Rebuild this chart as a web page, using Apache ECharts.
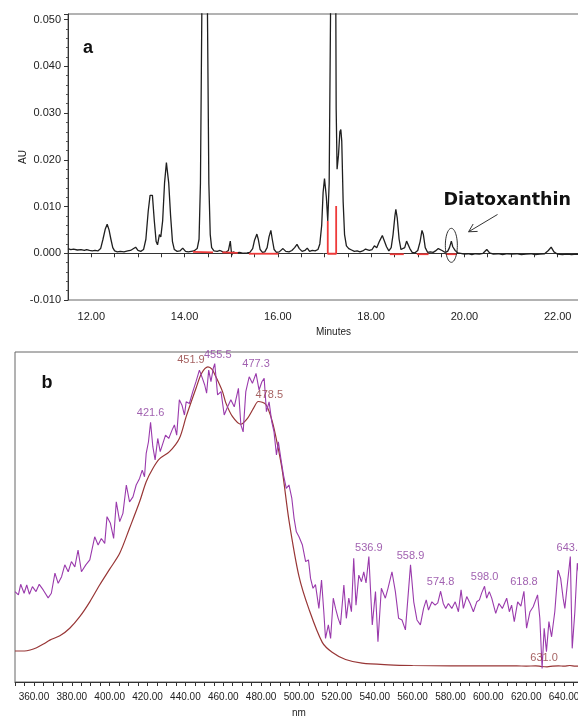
<!DOCTYPE html>
<html><head><meta charset="utf-8">
<script src="https://cdn.jsdelivr.net/npm/echarts@6.0.0/dist/echarts.min.js"></script>
<style>html,body{margin:0;padding:0;background:#fff}#c{width:578px;height:717px}</style>
</head><body><div id="c"></div><script>
// ---- Panel a: chromatogram ----
const minutes = [11.50,11.56,11.62,11.70,11.78,11.85,11.90,11.96,12.02,12.08,12.14,12.20,12.25,12.30,12.34,12.38,12.42,12.46,12.50,12.56,12.62,12.70,12.78,12.84,12.88,12.95,13.00,13.06,13.12,13.17,13.22,13.26,13.29,13.31,13.35,13.39,13.42,13.46,13.49,13.53,13.57,13.61,13.63,13.66,13.70,13.74,13.78,13.84,13.90,13.96,14.02,14.08,14.14,14.20,14.27,14.31,14.34,14.37,14.43,14.49,14.52,14.55,14.58,14.63,14.70,14.76,14.82,14.88,14.94,14.98,15.01,15.04,15.10,15.18,15.26,15.34,15.40,15.46,15.50,15.55,15.58,15.62,15.67,15.72,15.77,15.81,15.85,15.88,15.92,15.97,16.03,16.11,16.17,16.24,16.30,16.36,16.41,16.46,16.52,16.58,16.63,16.68,16.74,16.80,16.86,16.90,16.94,16.97,17.00,17.02,17.04,17.07,17.10,17.13,17.19,17.24,17.25,17.27,17.30,17.33,17.35,17.37,17.40,17.43,17.47,17.52,17.58,17.64,17.70,17.76,17.82,17.88,17.92,17.96,18.02,18.07,18.12,18.18,18.24,18.28,18.33,18.38,18.43,18.47,18.51,18.53,18.56,18.60,18.64,18.68,18.72,18.76,18.79,18.83,18.88,18.94,19.00,19.05,19.09,19.12,19.16,19.21,19.27,19.33,19.38,19.44,19.48,19.52,19.58,19.64,19.68,19.72,19.75,19.80,19.86,19.92,20.00,20.08,20.16,20.24,20.32,20.40,20.48,20.54,20.62,20.72,20.82,20.92,21.02,21.12,21.22,21.32,21.42,21.52,21.62,21.72,21.80,21.86,21.92,22.00,22.10,22.20,22.30,22.40,22.50];
const absorbanceAU = [0.0010,0.0008,0.0009,0.0007,0.0008,0.0006,0.0008,0.0006,0.0005,0.0006,0.0005,0.0010,0.0030,0.0052,0.0062,0.0050,0.0030,0.0012,0.0005,0.0003,0.0004,0.0003,0.0005,0.0006,0.0004,0.0013,0.0006,0.0004,0.0008,0.0030,0.0090,0.0124,0.0120,0.0124,0.0070,0.0025,0.0018,0.0040,0.0035,0.0070,0.0150,0.0194,0.0190,0.0150,0.0080,0.0025,0.0008,0.0004,0.0005,0.0011,0.0004,0.0003,0.0004,0.0005,0.0010,0.0030,0.0150,0.0520,0.1500,0.0520,0.0150,0.0040,0.0012,0.0005,0.0004,0.0006,0.0003,0.0002,0.0006,0.0026,-0.0004,0.0003,0.0001,0.0002,0.0000,0.0001,0.0002,0.0010,0.0028,0.0041,0.0030,0.0008,0.0002,0.0003,0.0012,0.0035,0.0049,0.0030,0.0008,0.0002,0.0003,0.0010,0.0004,0.0003,0.0006,0.0012,0.0019,0.0010,0.0004,0.0006,0.0011,0.0004,0.0006,0.0005,0.0008,0.0020,0.0060,0.0130,0.0160,0.0140,0.0120,0.0069,0.0150,0.0520,0.2000,0.0600,0.0311,0.0180,0.0210,0.0260,0.0265,0.0240,0.0110,0.0040,0.0016,0.0010,0.0007,0.0004,0.0005,0.0003,0.0005,0.0009,0.0012,0.0006,0.0008,0.0016,0.0012,0.0026,0.0038,0.0034,0.0014,0.0005,0.0012,0.0040,0.0080,0.0094,0.0075,0.0030,0.0008,0.0005,0.0012,0.0026,0.0027,0.0010,0.0002,0.0001,0.0006,0.0025,0.0049,0.0040,0.0012,0.0002,0.0003,0.0002,0.0005,0.0010,0.0012,0.0006,0.0002,0.0004,0.0012,0.0026,0.0014,0.0006,0.0001,0.0000,-0.0002,-0.0001,-0.0003,-0.0001,-0.0002,0.0000,0.0008,0.0001,-0.0002,-0.0001,-0.0003,-0.0001,-0.0002,-0.0001,-0.0003,-0.0002,-0.0001,-0.0003,-0.0002,-0.0001,0.0006,0.0013,0.0003,-0.0002,-0.0003,-0.0002,-0.0003,-0.0002,-0.0003];
// integration baselines (red), each segment a list of [minute, AU]
const integrationSegments = [
  [[14.18,0.0003],[14.61,0.0002]],
  [[14.81,0.0002],[15.14,0.0001]],
  [[15.38,-0.0001],[16.01,-0.0001]],
  [[17.07,0.0069],[17.07,-0.0001],[17.25,-0.0001],[17.25,0.0101]],
  [[18.40,-0.0002],[18.70,-0.0002]],
  [[18.98,-0.0002],[19.23,-0.0002]],
  [[19.60,-0.0002],[19.84,-0.0002]]
];
const auTicks = [-0.010,0.000,0.010,0.020,0.030,0.040,0.050];

// ---- Panel b: UV-Vis spectra ----
const purpleNm = [350.0,351.8,353.0,354.8,356.2,357.6,359.2,361.1,362.8,364.9,367.5,369.2,371.1,372.8,374.6,376.3,378.1,379.8,381.6,383.3,385.1,387.4,389.5,392.1,393.9,395.6,397.4,398.6,400.4,402.1,403.5,405.3,407.0,408.8,410.5,412.3,414.0,415.8,417.2,418.4,419.3,420.5,421.6,422.8,424.0,425.4,426.7,428.1,429.5,431.2,433.0,434.2,435.4,436.8,438.2,439.5,440.4,442.1,443.9,445.6,447.4,449.0,450.2,451.2,452.3,453.5,454.7,455.5,457.0,458.8,460.5,462.3,464.0,465.8,468.0,469.3,470.5,471.9,473.7,475.4,477.3,478.9,480.4,481.6,482.8,484.2,485.6,486.8,488.1,489.1,490.4,491.8,493.3,494.7,496.2,497.4,498.6,500.0,501.8,503.5,505.0,506.1,507.4,508.7,510.5,511.9,513.1,514.0,515.5,516.7,518.1,519.3,520.7,521.9,523.7,525.0,526.3,527.7,528.9,530.1,531.6,533.0,534.2,535.4,536.9,538.7,540.4,541.7,543.5,545.6,547.0,549.1,550.9,552.6,554.4,556.2,558.9,560.6,562.3,564.1,565.8,567.2,568.4,570.2,571.9,573.3,574.8,576.2,577.5,578.9,580.7,582.5,584.2,585.6,586.8,588.6,590.4,592.1,593.9,595.3,596.5,598.0,599.1,600.5,601.8,603.9,605.6,607.4,609.7,611.1,612.3,613.7,615.5,617.2,618.8,620.2,622.0,623.7,626.0,627.2,628.4,629.5,630.7,632.0,633.4,635.1,636.8,638.2,639.5,640.4,641.8,643.3,644.3,645.7,647.0,648.5,650.0];
const purpleAbs = [27.4,26.4,29.6,26.9,29.4,26.6,28.9,27.4,29.6,27.9,25.5,26.9,33.0,29.9,31.9,35.5,33.4,36.5,34.9,40.0,33.4,35.5,37.0,44.0,41.5,43.5,42.0,50.1,48.1,43.5,54.6,48.6,51.1,59.7,54.6,56.1,59.7,61.7,64.2,62.2,69.3,72.8,78.7,71.3,67.3,73.8,69.8,72.3,74.8,73.8,76.4,77.9,74.8,85.5,83.9,80.9,84.9,84.4,88.0,91.0,94.5,92.0,90.0,87.5,94.5,91.0,95.0,96.5,87.0,88.0,80.9,83.4,85.5,83.4,89.0,77.9,75.8,88.0,92.5,90.5,93.5,88.5,91.0,92.0,81.9,84.9,78.9,75.8,68.8,72.8,67.8,62.7,58.7,59.7,55.7,49.6,45.5,44.0,41.5,36.5,37.0,31.4,28.4,29.5,22.3,30.9,21.3,13.2,17.3,13.2,25.4,22.3,19.3,17.3,29.4,19.3,25.4,21.3,37.5,23.3,32.4,30.4,33.4,30.0,38.0,17.3,27.4,12.2,28.4,25.4,28.4,33.4,27.4,19.3,18.8,15.8,35.5,24.3,18.8,17.3,22.3,24.9,21.8,24.3,23.3,24.0,27.5,23.8,22.3,23.8,22.3,24.3,21.3,27.9,22.3,25.9,23.8,21.3,24.3,24.9,27.0,29.0,25.4,27.4,25.4,20.8,23.8,22.3,25.4,21.3,23.3,18.3,24.3,23.0,27.5,16.3,21.3,22.8,26.4,19.3,4.1,16.3,9.2,18.3,13.7,21.3,33.9,31.4,25.4,22.3,30.0,38.0,10.2,21.3,36.0,30.0,25.0];
const brownNm = [350,355,358,361.4,365,368.4,373.7,378.9,384.2,389.5,394.7,400,405.3,410.5,415.8,419.3,422.8,426.3,431.6,436.8,440.4,445.6,448.5,451.9,454.0,456.1,459.6,461.4,464.9,469.3,472.8,476.0,478.5,482.5,485.9,488.6,491.2,494.7,500,505.3,512.3,517.5,524.6,533.3,547.4,560,580,600,615,620,625,628,631,634,637,640,643,646,650];
const brownAbs = [9.4,9.4,9.7,10.4,11.5,12.7,14.0,16.3,19.8,24.3,29.4,34.2,39.0,46.6,54.6,60.7,64.7,67.6,69.8,73.8,80.4,89.0,93.5,95.5,94.8,92.5,88.0,84.5,80.4,78.1,79.9,83.0,85.0,84.1,78.9,72.0,64.0,49.0,32.0,22.0,12.0,9.0,6.8,5.7,5.2,5.0,4.9,4.9,4.9,4.8,4.9,4.7,4.6,4.8,4.9,4.8,5.0,4.8,4.8];
const purplePeakNm = [421.6,455.5,477.3,536.9,558.9,574.8,598.0,618.8,643.3];
const brownPeakNm = [451.9,478.5,631.0];

const FONT = "'Liberation Sans', Arial, sans-serif";
const PURPLE = '#9a3aac', PURPLE_TXT = '#8a3a9c';
const BROWN = '#983636', BROWN_TXT = '#8e3a3a';

const chart = echarts.init(document.getElementById('c'), null, {renderer: 'canvas'});

const chromData = minutes.map((t, i) => [t, absorbanceAU[i]]);
const purpleData = purpleNm.map((w, i) => [w, purpleAbs[i]]);
const brownData = brownNm.map((w, i) => [w, brownAbs[i]]);
const labelShift = {451.9: [-17, 2], 455.5: [3, 0], 478.5: [11, 2], 631.0: [-3, 0]};
function peakItems(list, nm, vals) {
  return list.map(w => {
    const i = nm.indexOf(w);
    const s = labelShift[w] || [0, 0];
    return {value: [w, vals[i]], label: {offset: s}};
  });
}
const isMult = (v, step) => Math.abs(v / step - Math.round(v / step)) < 1e-6;

const redSeries = integrationSegments.map(seg => ({
  type: 'line', xAxisIndex: 0, yAxisIndex: 0, data: seg, symbol: 'none', silent: true,
  lineStyle: {color: '#ee3a3a', width: 1.8}, z: 4, animation: false
}));

const option = {
  animation: false,
  backgroundColor: '#fff',
  grid: [
    {left: 68, top: 14, width: 513, height: 286, show: true, borderColor: '#666', borderWidth: 1,
     containLabel: false, outerBoundsMode: 'none'},
    {left: 15, top: 352, width: 568, height: 330, show: true, borderColor: '#666', borderWidth: 1,
     containLabel: false, outerBoundsMode: 'none'}
  ],
  xAxis: [
    {gridIndex: 0, type: 'value', min: 11.5, max: 22.5, interval: 0.5,
     name: 'Minutes', nameLocation: 'middle', nameGap: 27, nameMoveOverlap: false,
     nameTextStyle: {fontFamily: FONT, fontSize: 10, color: '#222', padding: [0, 0, 0, 18]},
     axisLine: {show: true, lineStyle: {color: '#333'}},
     axisTick: {show: true, inside: false, length: 4, lineStyle: {color: '#333'}},
     splitLine: {show: false},
     axisLabel: {margin: 11, fontFamily: FONT, fontSize: 11, color: '#222',
       formatter: v => isMult(v, 2) ? v.toFixed(2) : ''}},
    {gridIndex: 1, type: 'value', min: 350, max: 650, interval: 5,
     name: 'nm', nameLocation: 'middle', nameGap: 26, nameMoveOverlap: false,
     nameTextStyle: {fontFamily: FONT, fontSize: 10, color: '#222'},
     axisLine: {show: true, lineStyle: {color: '#333'}},
     axisTick: {show: true, inside: false, length: 4, lineStyle: {color: '#333'}},
     splitLine: {show: false},
     axisLabel: {margin: 10, fontFamily: FONT, fontSize: 10, color: '#222',
       formatter: v => isMult(v, 20) ? v.toFixed(2) : ''}}
  ],
  yAxis: [
    {gridIndex: 0, type: 'value', min: -0.010, max: 0.0512, interval: 0.010,
     name: 'AU', nameLocation: 'middle', nameGap: 40, nameRotate: 90, nameMoveOverlap: false,
     nameTextStyle: {fontFamily: FONT, fontSize: 10, color: '#222'},
     axisLine: {show: true, lineStyle: {color: '#333'}},
     axisTick: {show: true, inside: false, length: 4, lineStyle: {color: '#333'}},
     minorTick: {show: true, splitNumber: 5, length: 2, lineStyle: {color: '#555'}},
     splitLine: {show: false}, minorSplitLine: {show: false},
     axisLabel: {margin: 7, fontFamily: FONT, fontSize: 11, color: '#222',
       formatter: v => {
         if (!isMult(v, 0.01)) return '';
         if (Math.abs(v) < 1e-9) v = 0;
         return v.toFixed(3);
       }}},
    {gridIndex: 1, type: 'value', min: 0, max: 100, show: false,
     axisLine: {show: false}, axisTick: {show: false}, axisLabel: {show: false}, splitLine: {show: false}}
  ],
  series: [
    {type: 'line', xAxisIndex: 0, yAxisIndex: 0, data: chromData, symbol: 'none',
     lineStyle: {color: '#1f1f1f', width: 1.3}, clip: true, z: 3},
    ...redSeries,
    {type: 'line', xAxisIndex: 1, yAxisIndex: 1, data: brownData, symbol: 'none', smooth: 0.3,
     lineStyle: {color: BROWN, width: 1.2}, z: 2},
    {type: 'line', xAxisIndex: 1, yAxisIndex: 1, data: purpleData, symbol: 'none',
     lineStyle: {color: PURPLE, width: 1.1}, z: 3},
    {type: 'scatter', xAxisIndex: 1, yAxisIndex: 1, data: peakItems(purplePeakNm, purpleNm, purpleAbs),
     symbolSize: 1, itemStyle: {color: 'rgba(0,0,0,0)'}, silent: true, z: 5,
     label: {show: true, position: 'top', distance: 3, color: PURPLE_TXT, fontFamily: FONT, fontSize: 11,
       formatter: p => p.value[0].toFixed(1)}},
    {type: 'scatter', xAxisIndex: 1, yAxisIndex: 1, data: peakItems(brownPeakNm, brownNm, brownAbs),
     symbolSize: 1, itemStyle: {color: 'rgba(0,0,0,0)'}, silent: true, z: 5,
     label: {show: true, position: 'top', distance: 3, color: BROWN_TXT, fontFamily: FONT, fontSize: 11,
       formatter: p => p.value[0].toFixed(1)}}
  ]
};
chart.setOption(option);

// annotations
const P = (g, x, y) => chart.convertToPixel({gridIndex: g}, [x, y]);
const ec = P(0, 19.72, 0.0017);
const ellipsePts = [];
for (let k = 0; k < 48; k++) {
  const a = k / 48 * Math.PI * 2;
  ellipsePts.push([ec[0] + 6 * Math.cos(a), ec[1] + 17 * Math.sin(a)]);
}
const aS = P(0, 20.71, 0.0083), aE = P(0, 20.09, 0.0046);
const ang = Math.atan2(aS[1] - aE[1], aS[0] - aE[0]);
const hl = 9, hw = 0.5;
const h1 = [aE[0] + hl * Math.cos(ang + hw), aE[1] + hl * Math.sin(ang + hw)];
const h2 = [aE[0] + hl * Math.cos(ang - hw), aE[1] + hl * Math.sin(ang - hw)];
const tp = P(0, 19.55, 0.0112);
const ga = chart.convertToPixel({gridIndex: 0}, [11.5, 0.0512]);
const gb = chart.convertToPixel({gridIndex: 1}, [350, 100]);
chart.setOption({
  graphic: [
    {type: 'polygon', shape: {points: ellipsePts}, style: {fill: 'none', stroke: '#333', lineWidth: 1}, z: 10},
    {type: 'line', shape: {x1: aS[0], y1: aS[1], x2: aE[0], y2: aE[1]}, style: {stroke: '#333', lineWidth: 1}, z: 10},
    {type: 'polyline', shape: {points: [h1, aE, h2]}, style: {stroke: '#333', lineWidth: 1, fill: 'none'}, z: 10},
    {type: 'text', x: tp[0], y: tp[1], z: 10,
     style: {text: 'Diatoxanthin', font: "bold 17.5px 'DejaVu Sans', sans-serif", fill: '#111', textAlign: 'left', textVerticalAlign: 'middle'}},
    {type: 'text', x: ga[0] + 20, y: ga[1] + 34, z: 10,
     style: {text: 'a', font: "bold 18px 'Liberation Sans', Arial, sans-serif", fill: '#111', textAlign: 'center', textVerticalAlign: 'middle'}},
    {type: 'text', x: gb[0] + 32, y: gb[1] + 31, z: 10,
     style: {text: 'b', font: "bold 18px 'Liberation Sans', Arial, sans-serif", fill: '#111', textAlign: 'center', textVerticalAlign: 'middle'}}
  ]
});
</script></body></html>
